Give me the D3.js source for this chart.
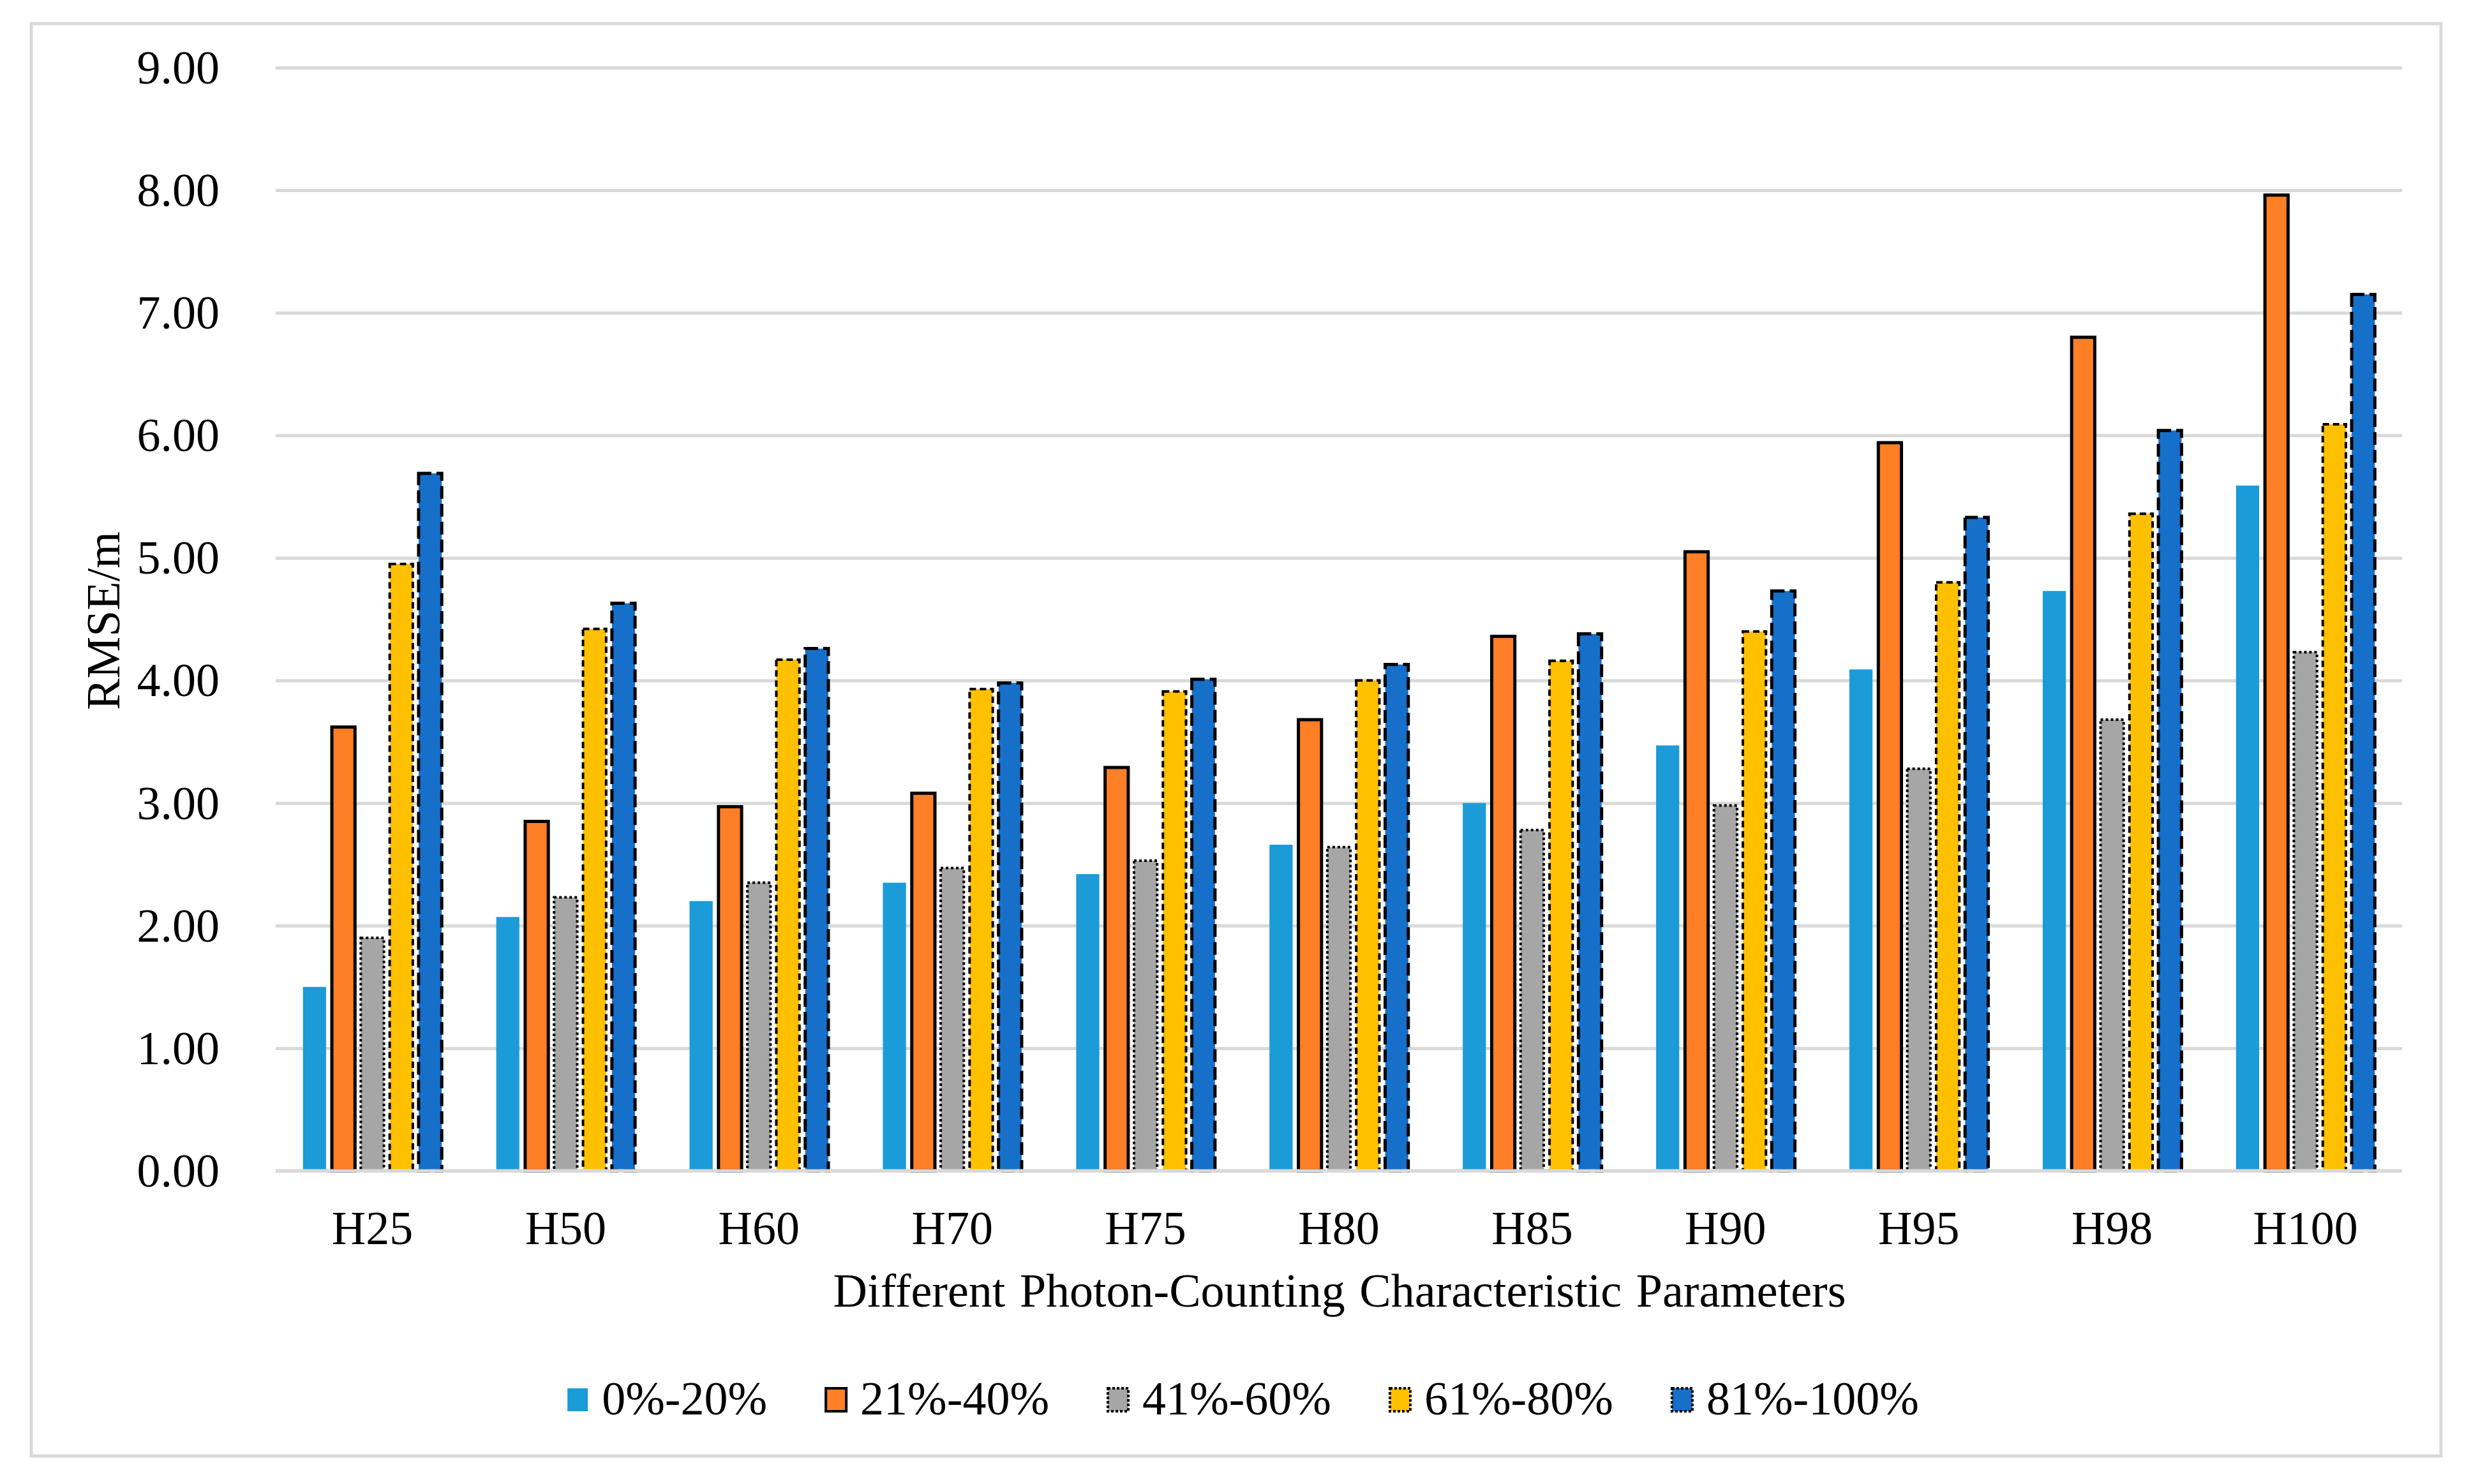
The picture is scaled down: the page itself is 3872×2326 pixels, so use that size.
<!DOCTYPE html>
<html>
<head>
<meta charset="utf-8">
<script src="https://cdn.jsdelivr.net/npm/d3@7"></script>
<style>
    body { margin: 0; background: #ffffff; }
    text { font-family: "Liberation Serif", "Times New Roman", serif; fill: #000000; }
</style>
</head>
<body>
<div id="chart"></div>
<script>
// Data
var categories = ["H25", "H50", "H60", "H70", "H75", "H80", "H85", "H90", "H95", "H98", "H100"];
var seriesNames = ["0%-20%", "21%-40%", "41%-60%", "61%-80%", "81%-100%"];
var s0to20 = [1.50, 2.07, 2.20, 2.35, 2.42, 2.66, 3.00, 3.47, 4.09, 4.73, 5.59];
var s21to40 = [3.62, 2.85, 2.97, 3.08, 3.29, 3.68, 4.36, 5.05, 5.94, 6.80, 7.96];
var s41to60 = [1.90, 2.23, 2.35, 2.47, 2.53, 2.64, 2.78, 2.98, 3.28, 3.68, 4.23];
var s61to80 = [4.95, 4.42, 4.17, 3.93, 3.91, 4.00, 4.16, 4.40, 4.80, 5.36, 6.09];
var s81to100 = [5.69, 4.63, 4.26, 3.98, 4.01, 4.13, 4.38, 4.73, 5.33, 6.04, 7.15];
var yTicks = [0, 1, 2, 3, 4, 5, 6, 7, 8, 9];

var seriesValues = [s0to20, s21to40, s41to60, s61to80, s81to100];

// Bar styles per series (fill, border, dash)
var fills = ["#1B9BD8", "#FE7F26", "#A6A6A6", "#FFC000", "#1670CA"];
var strokes = ["none", "#000000", "#000000", "#000000", "#000000"];
var strokeWidths = [0, 5, 4, 4, 5];
var dashes = [null, null, "4,4", "10,6", "20,8"];

var svgWidth = 3872;
var svgHeight = 2326;

var margin = {
    top: 106,
    right: 108,
    bottom: 491,
    left: 432
}

var width = svgWidth - margin.left - margin.right;
var height = svgHeight - margin.top - margin.bottom;

var svg = d3.select("#chart")
    .append("svg")
    .attr("width", svgWidth)
    .attr("height", svgHeight);

// Outer chart border
svg.append("rect")
    .attr("x", 49)
    .attr("y", 37)
    .attr("width", 3776)
    .attr("height", 2245)
    .attr("fill", "#ffffff")
    .attr("stroke", "#D9D9D9")
    .attr("stroke-width", 5);

var chartGroup = svg.append("g")
    .attr("transform", `translate(${margin.left}, ${margin.top})`);

var xScale = d3.scaleBand()
    .domain(categories)
    .range([0, width])
    .paddingInner(0.267)
    .paddingOuter(0.1335);

var xSub = d3.scaleBand()
    .domain(d3.range(seriesNames.length))
    .range([0, xScale.bandwidth()])
    .paddingInner(0.2)
    .paddingOuter(0.05);

var yScale = d3.scaleLinear()
    .domain([0, 9])
    .range([height, 0]);

// Gridlines
var leftAxis = d3.axisLeft(yScale)
    .tickValues(yTicks)
    .tickSize(-width)
    .tickPadding(88)
    .tickFormat(d3.format(".2f"));

var yAxis = chartGroup.append("g")
    .call(leftAxis);

yAxis.select(".domain").remove();
yAxis.selectAll("line")
    .attr("stroke", "#D9D9D9")
    .attr("stroke-width", 5);
yAxis.selectAll("text")
    .attr("font-size", 74)
    .attr("dy", "0.33em");

// Category axis
var bottomAxis = d3.axisBottom(xScale)
    .tickSize(0)
    .tickPadding(62);

var xAxis = chartGroup.append("g")
    .attr("transform", `translate(0, ${height})`)
    .call(bottomAxis);

xAxis.select(".domain").remove();
xAxis.selectAll("text")
    .attr("font-size", 74)
    .attr("dy", "0.71em");

// Bars
var catGroups = chartGroup.selectAll(".cat")
    .data(categories)
    .enter()
    .append("g")
    .attr("class", "cat")
    .attr("transform", d => `translate(${xScale(d)}, 0)`);

catGroups.selectAll("rect")
    .data((d, i) => seriesValues.map((vals, s) => ({ s: s, value: vals[i] })))
    .enter()
    .append("rect")
    .attr("x", d => xSub(d.s))
    .attr("y", d => yScale(d.value))
    .attr("width", xSub.bandwidth())
    .attr("height", d => height - yScale(d.value))
    .attr("fill", d => fills[d.s])
    .attr("stroke", d => strokes[d.s])
    .attr("stroke-width", d => strokeWidths[d.s])
    .attr("stroke-dasharray", d => dashes[d.s]);

// Baseline drawn over the bar bottoms
chartGroup.append("line")
    .attr("x1", 0)
    .attr("x2", width)
    .attr("y1", height)
    .attr("y2", height)
    .attr("stroke", "#D9D9D9")
    .attr("stroke-width", 5);

// Axis titles
var xTitle = svg.append("text")
    .attr("x", 2099)
    .attr("y", 2048)
    .attr("text-anchor", "middle")
    .attr("font-size", 74)
    .text("Different Photon-Counting Characteristic Parameters");

// spread the words to match the wide spacing of the original
var natural = xTitle.node().getComputedTextLength();
xTitle.attr("word-spacing", Math.max(0, (1587 - natural) / 3));

svg.append("text")
    .attr("transform", "translate(187, 973) rotate(-90)")
    .attr("text-anchor", "middle")
    .attr("font-size", 74)
    .text("RMSE/m");

// Legend
var legend = svg.append("g");
var legendX = 0;
seriesNames.forEach(function(name, s) {
    var item = legend.append("g")
        .attr("transform", `translate(${legendX}, 0)`);
    item.append("rect")
        .attr("x", 2)
        .attr("y", 2176)
        .attr("width", 32)
        .attr("height", 36)
        .attr("fill", fills[s])
        .attr("stroke", strokes[s])
        .attr("stroke-width", Math.min(strokeWidths[s], 4))
        .attr("stroke-dasharray", dashes[s] ? "4,3" : null);
    var label = item.append("text")
        .attr("x", 56)
        .attr("y", 2217)
        .attr("font-size", 74)
        .text(name);
    legendX += 56 + label.node().getComputedTextLength() + 90;
});
legendX -= 90;
legend.attr("transform", `translate(${1947 - legendX / 2}, 0)`);
</script>
</body>
</html>
